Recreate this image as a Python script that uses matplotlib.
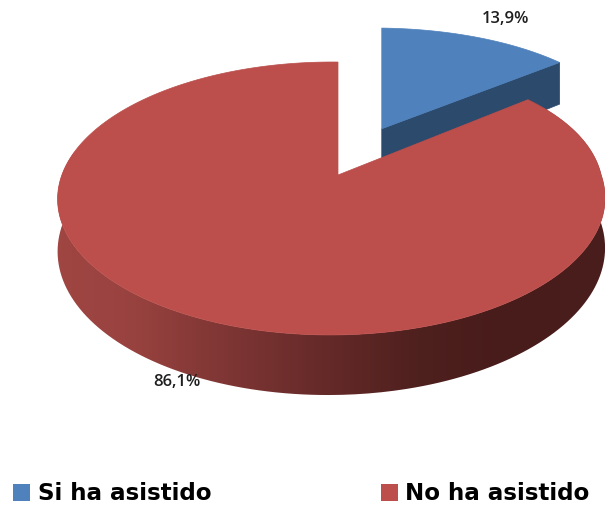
#!/usr/bin/env python3
import numpy as np
import matplotlib.pyplot as plt
from matplotlib.colors import LinearSegmentedColormap
from matplotlib.patches import PathPatch, Polygon, Rectangle
from matplotlib.path import Path

categories = ["Si ha asistido", "No ha asistido"]
values = [13.9, 86.1]
top_colors = ["#4F81BD", "#BC4E4B"]
blue_side = "#2B4A6C"

# side band shading, left to right
band_stops = [(0.0, "#A04643"), (0.15, "#98423F"), (0.25, "#873A38"), (0.45, "#6A2C2B"),
              (0.65, "#4E201E"), (0.8, "#481C1B"), (1.0, "#4A1E1D")]

# projection of the flat pie onto the canvas (pixel units)
cx, cy = 338, 175
ax_u, ax_v = 269.5, 132.4
tilt_v, tilt_u = 0.172, 0.024
depth = 49.7
explode = 0.41


def project(u, v, lowered=False, skew=0.0, shift_x=0.0):
    w = 1 + tilt_v * v + tilt_u * u
    x = cx + ax_u * u / w + skew * np.maximum(u, 0) * np.maximum(v, 0) + shift_x
    y = cy - ax_v * v / w
    if lowered:
        y = y + depth / w
    return x, y


def arc(a0, a1, dv=0.0, lowered=False, skew=0.0, shift_x=0.0):
    t = np.deg2rad(np.linspace(a0, a1, 300))
    x, y = project(np.cos(t), np.sin(t) + dv, lowered, skew, shift_x)
    return np.column_stack([x, y])


fig = plt.figure(figsize=(6.05, 5.05), dpi=100)
ax = fig.add_axes([0, 0, 1, 1])

# wedges run clockwise from 12 o'clock
sweep = 360 * values[0] / sum(values)
end_blue = 90 - sweep
mid = np.deg2rad(90 - sweep / 2)
du, dv = explode * np.cos(mid), explode * np.sin(mid)
shift = project(du, dv)[0] - cx
end_u, end_v = np.cos(np.deg2rad(end_blue)), np.sin(np.deg2rad(end_blue))

# blue slice, pulled out: cut face first, then the top
apex = project(0, dv, shift_x=shift)
apex_low = project(0, dv, True, shift_x=shift)
corner = project(end_u, end_v + dv, skew=6, shift_x=shift)
corner_low = project(end_u, end_v + dv, True, skew=6, shift_x=shift)
ax.add_patch(Polygon([apex, corner, corner_low, apex_low], fc=blue_side, ec=blue_side, lw=0.5, zorder=1))
blue_top = np.vstack([[apex], arc(90, end_blue, dv, skew=6, shift_x=shift)])
ax.add_patch(Polygon(blue_top, fc=top_colors[0], ec=top_colors[0], lw=0.5, zorder=2))

# red side band with a horizontal gradient
band = np.vstack([arc(end_blue, -190, skew=14), arc(-190, end_blue, lowered=True, skew=14)])
band_patch = PathPatch(Path(np.vstack([band, band[0]])), fc="none", ec="none", zorder=3)
ax.add_patch(band_patch)
cmap = LinearSegmentedColormap.from_list("band", band_stops)
img = ax.imshow(np.linspace(0, 1, 256)[None, :], cmap=cmap, extent=[50, 618, 420, 100],
                aspect="auto", zorder=3)
img.set_clip_path(band_patch)

# red top face
red_top = np.vstack([[project(0, 0)], arc(end_blue, 90 - 360, skew=14)])
ax.add_patch(Polygon(red_top, fc=top_colors[1], ec=top_colors[1], lw=0.5, zorder=4))

# value labels
label_style = dict(fontsize=12, family="Open Sans", weight="semibold", color="#1F1F1F",
                   ha="center", va="center", zorder=5)
ax.text(505, 19, f"{values[0]:.1f}%".replace(".", ","), **label_style)
ax.text(177, 382, f"{values[1]:.1f}%".replace(".", ","), **label_style)

# legend squares and names
for name, color, box_x, text_x in zip(categories, top_colors, [13, 381], [38, 405]):
    ax.add_patch(Rectangle((box_x, 484), 17, 17, fc=color, ec="none", zorder=5))
    ax.text(text_x, 500, name, family="DejaVu Sans", weight="bold", fontsize=16.6, color="black",
            ha="left", va="baseline", zorder=5)

ax.set_xlim(0, 605)
ax.set_ylim(505, 0)
ax.axis("off")

fig.savefig("out.png", dpi=100)
